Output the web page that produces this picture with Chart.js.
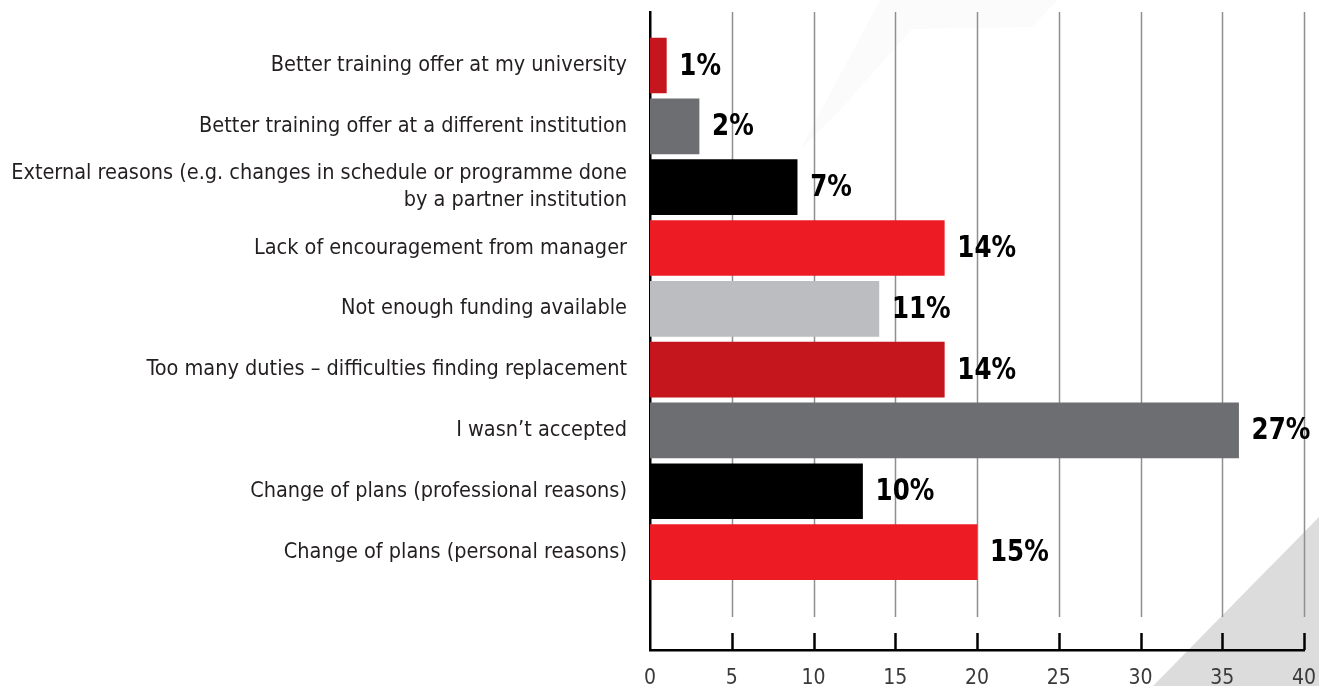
<!DOCTYPE html>
<html><head><meta charset="utf-8">
<script src="https://cdn.jsdelivr.net/npm/chart.js@4"></script>
<style>
html,body{margin:0;padding:0;background:#fff;width:1319px;height:686px;overflow:hidden}
#wrap{position:relative;width:1319px;height:686px}
.deco{position:absolute;left:0;top:0}
canvas{position:absolute;left:0;top:0}
</style></head><body>
<div id="wrap">
<svg class="deco" width="1319" height="686">
  <polygon points="800,150 880,0 1058,0 1032,27 912,29 840,110" fill="#fbfbfb"/>
  <polygon points="1153,686 1319,517 1319,686" fill="#dcdcdd"/>
</svg>
<canvas id="c" width="1319" height="686"></canvas>
</div>
<script>
const categories = [
  'Better training offer at my university',
  'Better training offer at a different institution',
  ['External reasons (e.g. changes in schedule or programme done', 'by a partner institution'],
  'Lack of encouragement from manager',
  'Not enough funding available',
  'Too many duties \u2013 difficulties finding replacement',
  'I wasn\u2019t accepted',
  'Change of plans (professional reasons)',
  'Change of plans (personal reasons)'
];
const values = [1, 3, 9, 18, 14, 18, 36, 13, 20];
const percentLabels = [1, 2, 7, 14, 11, 14, 27, 10, 15];
const barColors = ['#c4161c', '#6d6e71', '#000000', '#ed1c24', '#bcbdc0', '#c4161c', '#6d6e71', '#000000', '#ed1c24'];
const xTickValues = [0, 5, 10, 15, 20, 25, 30, 35, 40];

const FONT = '"Liberation Sans Narrow", "DejaVu Sans Condensed", "Arial Narrow", sans-serif';

const gridPlugin = {
  id: 'customGrid',
  beforeDatasetsDraw(chart) {
    const {ctx, chartArea: a, scales: {x}} = chart;
    ctx.save();
    x.ticks.forEach(t => {
      if (t.value === 0) return;
      const px = Math.round(x.getPixelForValue(t.value)) + 0.5;
      ctx.strokeStyle = '#8f8f8f'; ctx.lineWidth = 1.5;
      ctx.beginPath(); ctx.moveTo(px, a.top); ctx.lineTo(px, a.bottom - 33); ctx.stroke();
      ctx.strokeStyle = '#000'; ctx.lineWidth = 2.5;
      ctx.beginPath(); ctx.moveTo(px, a.bottom - 17); ctx.lineTo(px, a.bottom); ctx.stroke();
    });
    ctx.restore();
  }
};

const labelPlugin = {
  id: 'valueLabels',
  afterDatasetsDraw(chart) {
    const ctx = chart.ctx;
    const meta = chart.getDatasetMeta(0);
    meta.data.forEach((bar, i) => {
      ctx.save();
      ctx.translate(bar.x + 13, bar.y + 1);
      ctx.scale(0.88, 1);
      ctx.font = 'bold 31px ' + FONT;
      ctx.fillStyle = '#000';
      ctx.textAlign = 'left';
      ctx.textBaseline = 'middle';
      ctx.fillText(percentLabels[i] + '%', 0, 0);
      ctx.restore();
    });
  }
};

new Chart(document.getElementById('c'), {
  type: 'bar',
  data: {
    datasets: [{
      data: values.map((v, i) => ({x: v, y: i})),
      backgroundColor: barColors,
      borderWidth: 0,
      barThickness: 55
    }]
  },
  options: {
    indexAxis: 'y',
    responsive: false,
    animation: false,
    layout: {padding: {top: 12, right: 15, left: 0, bottom: 0}},
    plugins: {legend: {display: false}, tooltip: {enabled: false}},
    scales: {
      x: {
        type: 'linear', min: 0, max: 40, position: 'bottom', offset: false,
        grid: {display: false, drawTicks: false},
        border: {display: true, color: '#000', width: 2.5},
        afterBuildTicks(s) { s.ticks = xTickValues.map(v => ({value: v})); },
        ticks: {color: '#3a3a3a', font: {family: FONT, size: 21}, padding: 16, autoSkip: false, maxRotation: 0},
        afterFit(s) { s.height = 36; s.paddingLeft = 0; s.paddingRight = 0; }
      },
      y: {
        type: 'linear', reverse: true, min: -0.88, max: 9.61, offset: false,
        grid: {display: false, drawTicks: false, offset: false},
        border: {display: true, color: '#000', width: 2.5},
        afterBuildTicks(s) { s.ticks = categories.map((c, i) => ({value: i})); },
        ticks: {
          autoSkip: false,
          callback: (v) => categories[v],
          color: '#231f20',
          font: {family: FONT, size: 21.5, lineHeight: 1.25},
          padding: 23
        },
        afterFit(s) { s.width = 650; s.paddingTop = 0; s.paddingBottom = 0; }
      }
    }
  },
  plugins: [gridPlugin, labelPlugin]
});
</script>
</body></html>
